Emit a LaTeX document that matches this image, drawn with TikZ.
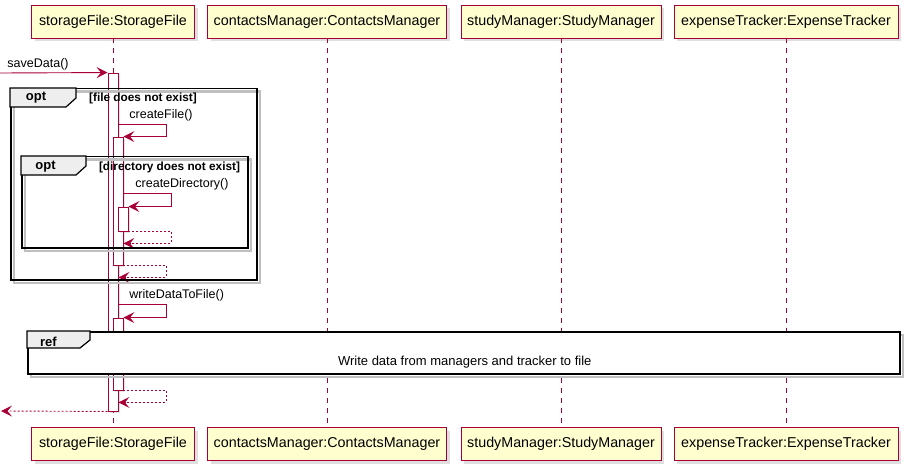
\documentclass[tikz,border=0pt]{standalone}
\usepackage{fontspec}
\setmainfont{Liberation Sans}
\usetikzlibrary{arrows.meta,shapes,shadows,positioning}

\definecolor{umlred}{HTML}{A80036}
\definecolor{umlfill}{HTML}{FEFECE}
\definecolor{tabgray}{HTML}{EEEEEE}

\begin{document}
\begin{tikzpicture}[x=1pt, y=-1pt]

	\tikzset{
		part/.style = {draw=umlred, fill=umlfill, line width=0.9pt, minimum height=33pt,
			inner sep=0pt, font=\fontsize{14.3}{16}\selectfont,
			drop shadow={shadow xshift=3pt, shadow yshift=-3pt, opacity=0.25}},
		life/.style = {draw=umlred, line width=0.8pt, dash pattern=on 5pt off 5pt},
		act/.style = {draw=umlred, fill=white, line width=0.9pt, minimum width=10pt, inner sep=0pt,
			drop shadow={shadow xshift=2pt, shadow yshift=-2pt, opacity=0.2}},
		msg/.style = {draw=umlred, line width=0.9pt, -{Stealth[length=11pt, width=11pt, inset=4.5pt]}},
		ret/.style = {msg, dash pattern=on 2pt off 2pt},
		lbl/.style = {font=\fontsize{12.5}{14}\selectfont, inner sep=1pt, text=black},
		frame/.style = {draw=black, line width=1.5pt, inner sep=0pt,
			preaction={draw=black!25, line width=2.5pt, transform canvas={xshift=3pt, yshift=-3pt}}},
		tab/.style = {draw=black, line width=1.2pt, fill=tabgray},
		ftitle/.style = {font=\bfseries\fontsize{13}{15}\selectfont, inner sep=0pt},
		fcond/.style = {font=\bfseries\fontsize{11.8}{13}\selectfont, inner sep=0pt}
	}

	\useasboundingbox (0,0) rectangle (909,473);

	% participants
	\node (sf) [part, minimum width=163pt] at (113,21.5) {storageFile:StorageFile};
	\node (cm) [part, minimum width=239pt] at (327,21.5) {contactsManager:ContactsManager};
	\node (sm) [part, minimum width=200pt] at (561,21.5) {studyManager:StudyManager};
	\node (et) [part, minimum width=224pt] at (786,21.5) {expenseTracker:ExpenseTracker};

	\node (sf-bot) [part, minimum width=163pt] at (113,444) {storageFile:StorageFile};
	\node (cm-bot) [part, minimum width=239pt] at (327,444) {contactsManager:ContactsManager};
	\node (sm-bot) [part, minimum width=200pt] at (561,444) {studyManager:StudyManager};
	\node (et-bot) [part, minimum width=224pt] at (786,444) {expenseTracker:ExpenseTracker};

	\foreach \p in {sf,cm,sm,et}
		\draw [life] (\p.south) -- (\p-bot.north);

	% activations
	\node (a1) [act, minimum height=338pt] at (113,242) {};
	\node (a2) [act, minimum height=128pt] at (118,201) {};
	\node (a3) [act, minimum height=24pt] at (123,219) {};
	\node (a4) [act, minimum height=72pt] at (118,354) {};

	% messages
	\coordinate (caller) at (0,73);
	\coordinate (back) at (1,411);
	\coordinate (cf) at (118,124);
	\coordinate (cd) at (123,193);
	\coordinate (wd) at (118,304);

	\draw [msg] (caller) -- node[lbl, pos=0, anchor=south west, xshift=6pt, yshift=1pt] {saveData()} (a1.north west);
	\draw [msg] (cf) -- node[lbl, pos=0, anchor=south west, xshift=10pt, yshift=1pt] {createFile()} ++(48,0) |- (a2.north east);
	\draw [msg] (cd) -- node[lbl, pos=0, anchor=south west, xshift=11pt, yshift=1pt] {createDirectory()} ++(48,0) |- (a3.north east);
	\draw [ret] (a3.south east) -- ++(43,0) |- ++(-48,12);
	\draw [ret] (a2.south east) -- ++(43,0) |- ++(-48,12);
	\draw [msg] (wd) -- node[lbl, pos=0, anchor=south west, xshift=10pt, yshift=1pt] {writeDataToFile()} ++(48,0) |- (a4.north east);
	\draw [ret] (a4.south east) -- ++(43,0) |- ++(-48,12);
	\draw [ret] (a1.south west) -- (back);

	% opt frames
	\node (opt1) [frame, minimum width=246pt, minimum height=191pt, anchor=north west] at (10,88) {};
	\draw [tab] (opt1.north west) -- ++(66,0) -- ++(0,10) -- ++(-10,9) -- ++(-56,0) -- cycle;
	\node [ftitle] at ([shift={(26,10)}]opt1.north west) {opt};
	\node [fcond] at ([shift={(133,10)}]opt1.north west) {[file does not exist]};

	\node (opt2) [frame, minimum width=226pt, minimum height=91pt, anchor=north west] at (21,156) {};
	\draw [tab] (opt2.north west) -- ++(65,0) -- ++(0,10) -- ++(-10,9) -- ++(-55,0) -- cycle;
	\node [ftitle] at ([shift={(24.5,11)}]opt2.north west) {opt};
	\node [fcond] at ([shift={(148.5,11)}]opt2.north west) {[directory does not exist]};

	% ref frame
	\node (ref) [frame, fill=white, minimum width=872pt, minimum height=42pt, anchor=north west] at (27,331) {};
	\draw [tab] (ref.north west) -- ++(63,0) -- ++(0,9) -- ++(-10,8) -- ++(-53,0) -- cycle;
	\node [ftitle] at ([shift={(21.5,10.5)}]ref.north west) {ref};
	\node [lbl, font=\fontsize{13}{15}\selectfont] at ([shift={(1,9.5)}]ref.center) {Write data from managers and tracker to file};

\end{tikzpicture}
\end{document}
